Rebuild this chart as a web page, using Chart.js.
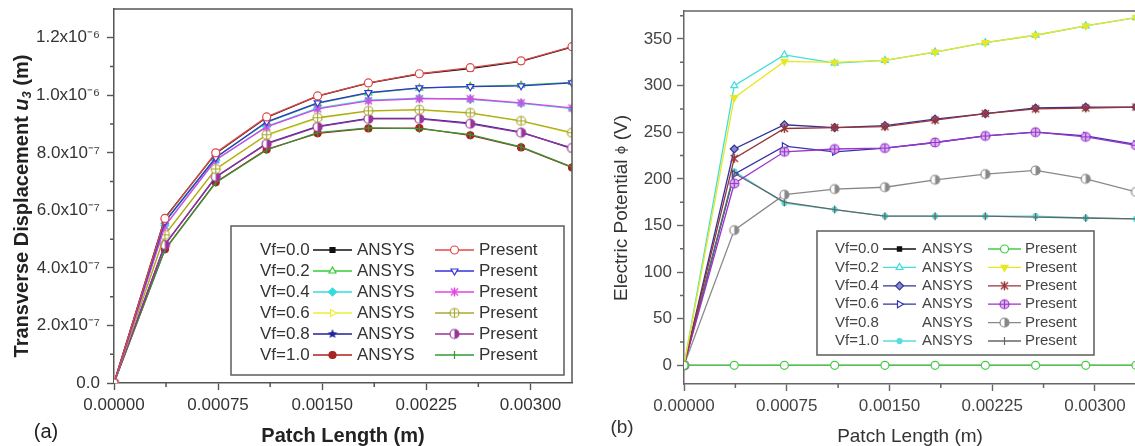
<!DOCTYPE html>
<html>
<head>
<meta charset="utf-8">
<script src="https://cdn.jsdelivr.net/npm/chart.js@4/dist/chart.umd.min.js"></script>
<style>
  html, body { margin: 0; padding: 0; background: #fff; overflow: hidden; }
  #wrap { position: relative; width: 1135px; height: 446px; overflow: hidden; }
  #dispChart { position: absolute; left: 0; top: 0; }
  #potChart { position: absolute; left: 590px; top: 0; }
</style>
</head>
<body>
<div id="wrap">
  <canvas id="dispChart" width="590" height="446"></canvas>
  <canvas id="potChart" width="600" height="446"></canvas>
</div>
<script>
// patch length stations (m)
const xPatch = [0, 0.000367, 0.000733, 0.0011, 0.001467, 0.001833, 0.0022, 0.002567, 0.002933, 0.0033];
const xTickValues = [0, 0.00075, 0.0015, 0.00225, 0.003];
const xTickLabels = ['0.00000', '0.00075', '0.00150', '0.00225', '0.00300'];
const xMinor = [0.000375, 0.001125, 0.001875, 0.002625];
const vfLabels = ['Vf=0.0', 'Vf=0.2', 'Vf=0.4', 'Vf=0.6', 'Vf=0.8', 'Vf=1.0'];

// (a) transverse displacement u3 (m)
const dispTicks = [0, 2e-7, 4e-7, 6e-7, 8e-7, 1e-6, 1.2e-6];
const dispTickLabels = ['0.0', '2.0x10\u207B\u2077', '4.0x10\u207B\u2077', '6.0x10\u207B\u2077', '8.0x10\u207B\u2077', '1.0x10\u207B\u2076', '1.2x10\u207B\u2076'];
const dispMinor = [1e-7, 3e-7, 5e-7, 7e-7, 9e-7, 1.1e-6];

const dispAnsys00 = [0, 5.74e-7, 7.98e-7, 9.23e-7, 9.97e-7, 1.042e-6, 1.074e-6, 1.093e-6, 1.118e-6, 1.168e-6];
const dispAnsys02 = [0, 5.62e-7, 7.85e-7, 9.06e-7, 9.72e-7, 1.008e-6, 1.025e-6, 1.031e-6, 1.035e-6, 1.045e-6];
const dispAnsys04 = [0, 5.48e-7, 7.74e-7, 8.92e-7, 9.55e-7, 9.83e-7, 9.90e-7, 9.86e-7, 9.72e-7, 9.54e-7];
const dispAnsys06 = [0, 5.17e-7, 7.42e-7, 8.61e-7, 9.20e-7, 9.45e-7, 9.49e-7, 9.37e-7, 9.10e-7, 8.68e-7];
const dispAnsys08 = [0, 4.82e-7, 7.15e-7, 8.33e-7, 8.92e-7, 9.20e-7, 9.20e-7, 9.03e-7, 8.72e-7, 8.15e-7];
const dispAnsys10 = [0, 4.65e-7, 6.98e-7, 8.12e-7, 8.68e-7, 8.85e-7, 8.86e-7, 8.61e-7, 8.19e-7, 7.49e-7];

const dispPresent00 = [0, 5.72e-7, 8.00e-7, 9.25e-7, 9.98e-7, 1.043e-6, 1.075e-6, 1.096e-6, 1.120e-6, 1.169e-6];
const dispPresent02 = [0, 5.60e-7, 7.83e-7, 9.08e-7, 9.74e-7, 1.009e-6, 1.026e-6, 1.030e-6, 1.033e-6, 1.043e-6];
const dispPresent04 = [0, 5.45e-7, 7.76e-7, 8.90e-7, 9.53e-7, 9.81e-7, 9.88e-7, 9.88e-7, 9.74e-7, 9.56e-7];
const dispPresent06 = [0, 5.15e-7, 7.44e-7, 8.63e-7, 9.22e-7, 9.46e-7, 9.50e-7, 9.39e-7, 9.11e-7, 8.70e-7];
const dispPresent08 = [0, 4.80e-7, 7.17e-7, 8.31e-7, 8.90e-7, 9.18e-7, 9.18e-7, 9.01e-7, 8.70e-7, 8.17e-7];
const dispPresent10 = [0, 4.63e-7, 6.96e-7, 8.10e-7, 8.70e-7, 8.87e-7, 8.84e-7, 8.63e-7, 8.21e-7, 7.51e-7];

// (b) electric potential phi (V)
const potTicks = [0, 50, 100, 150, 200, 250, 300, 350];
const potTickLabels = ['0', '50', '100', '150', '200', '250', '300', '350'];
const potMinor = [-25, 25, 75, 125, 175, 225, 275, 325, 375];

const potAnsys00 = [0, 0, 0, 0, 0, 0, 0, 0, 0, 0];
const potAnsys02 = [0, 300, 333, 324, 327, 336, 346, 354, 364, 373];
const potAnsys04 = [0, 232, 258, 255, 257, 264, 270, 276, 277, 277];
const potAnsys06 = [0, 205, 235, 229, 233, 239, 246, 250, 246, 237];
const potAnsys10 = [0, 208, 174, 167, 160, 160, 160, 160, 158, 157];

const potPresent00 = [0, 0, 0, 0, 0, 0, 0, 0, 0, 0];
const potPresent02 = [0, 287, 326, 325, 327, 336, 346, 354, 364, 373];
const potPresent04 = [0, 222, 254, 255, 256, 263, 270, 275, 276, 277];
const potPresent06 = [0, 195, 229, 232, 233, 239, 246, 250, 245, 236];
const potPresent08 = [0, 145, 183, 189, 191, 199, 205, 209, 200, 186];
const potPresent10 = [0, 206, 175, 167, 160, 160, 160, 159, 158, 157];

Chart.defaults.font.family = "'Liberation Sans', Arial, sans-serif";

// small canvas markers for the symbols Chart.js has no style for
function marker(kind, color, r, fill) {
  const s = Math.ceil(r * 2 + 4);
  const c = document.createElement('canvas');
  c.width = c.height = s;
  const g = c.getContext('2d');
  const m = s / 2;
  g.strokeStyle = color;
  g.fillStyle = color;
  g.lineWidth = 1.2;
  g.beginPath();
  if (kind === 'half') {
    g.arc(m, m, r, 0, Math.PI * 2);
    g.fillStyle = '#fff'; g.fill(); g.stroke();
    g.beginPath();
    g.arc(m, m, r, -Math.PI / 2, Math.PI / 2);
    g.closePath();
    g.fillStyle = color; g.fill();
  } else if (kind === 'circleCross') {
    g.arc(m, m, r, 0, Math.PI * 2);
    g.fillStyle = fill || '#fff'; g.fill(); g.stroke();
    g.beginPath();
    g.moveTo(m - r, m); g.lineTo(m + r, m);
    g.moveTo(m, m - r); g.lineTo(m, m + r);
    g.stroke();
  } else if (kind === 'star5') {
    for (let i = 0; i < 10; i++) {
      const a = -Math.PI / 2 + i * Math.PI / 5;
      const rr = i % 2 ? r * 0.45 : r;
      g.lineTo(m + rr * Math.cos(a), m + rr * Math.sin(a));
    }
    g.closePath(); g.fill();
  } else if (kind === 'xBar') {
    const d = r * 0.8;
    g.lineWidth = 1.4;
    g.moveTo(m - d, m - d); g.lineTo(m + d, m + d);
    g.moveTo(m + d, m - d); g.lineTo(m - d, m + d);
    g.moveTo(m, m - r); g.lineTo(m, m + r);
    g.stroke();
  }
  return c;
}

function series(label, values, color, style, extra) {
  return Object.assign({
    label: label,
    data: xPatch.map((x, i) => ({ x: x, y: values[i] })),
    borderColor: color,
    pointBorderColor: color,
    pointBackgroundColor: '#fff',
    pointStyle: style,
    pointRadius: 4,
    pointBorderWidth: 1.2,
    borderWidth: 1.3,
    tension: 0
  }, extra || {});
}

function samplePoint(ctx, ds, x, y) {
  ctx.strokeStyle = ds.pointBorderColor;
  ctx.fillStyle = ds.pointBackgroundColor;
  ctx.lineWidth = ds.pointBorderWidth;
  const opts = { pointStyle: ds.pointStyle, radius: ds.pointRadius, rotation: ds.pointRotation || 0, borderWidth: ds.pointBorderWidth };
  if (Chart.helpers && Chart.helpers.drawPoint) {
    Chart.helpers.drawPoint(ctx, opts, x, y);
  } else {
    ctx.beginPath();
    ctx.arc(x, y, ds.pointRadius, 0, Math.PI * 2);
    ctx.fill(); ctx.stroke();
  }
}

// two-column legend: "Vf=.. —o— ANSYS   —o— Present"
const pairLegend = {
  id: 'pairLegend',
  afterDatasetsDraw(chart, args, o) {
    const ctx = chart.ctx;
    const [l, t, r, b] = o.box;
    ctx.save();
    ctx.fillStyle = '#fff';
    ctx.fillRect(l, t, r - l, b - t);
    ctx.strokeStyle = o.boxColor;
    ctx.lineWidth = 1.6;
    ctx.strokeRect(l, t, r - l, b - t);
    ctx.textBaseline = 'middle';
    o.rows.forEach((text, i) => {
      const y = o.top + i * o.step;
      ctx.font = o.font;
      ctx.fillStyle = o.textColor;
      ctx.fillText(text, o.cols[0], y);
      ctx.fillText('ANSYS', o.cols[2], y);
      ctx.fillText('Present', o.cols[4], y);
      [[o.ansys[i], o.cols[1]], [o.present[i], o.cols[3]]].forEach(([idx, x0]) => {
        if (idx === null) return;
        const ds = chart.data.datasets[idx];
        ctx.strokeStyle = ds.borderColor;
        ctx.lineWidth = ds.borderWidth;
        ctx.beginPath();
        ctx.moveTo(x0, y);
        ctx.lineTo(x0 + o.sampleLen, y);
        ctx.stroke();
        samplePoint(ctx, ds, x0 + o.sampleLen / 2, y);
      });
    });
    ctx.restore();
  }
};

// top/right frame lines and short minor ticks
const frameMinor = {
  id: 'frameMinor',
  afterDraw(chart, args, o) {
    const { ctx, chartArea: a, scales } = chart;
    ctx.save();
    ctx.strokeStyle = o.color;
    ctx.lineWidth = o.width;
    ctx.beginPath();
    ctx.moveTo(a.left, a.top);
    ctx.lineTo(a.right, a.top);
    ctx.lineTo(a.right, a.bottom);
    o.xMinor.forEach(v => {
      const px = scales.x.getPixelForValue(v);
      ctx.moveTo(px, a.bottom); ctx.lineTo(px, a.bottom + o.len);
    });
    o.yMinor.forEach(v => {
      const py = scales.y.getPixelForValue(v);
      if (py < a.top || py > a.bottom) return;
      ctx.moveTo(a.left, py); ctx.lineTo(a.left - o.len, py);
    });
    ctx.stroke();
    ctx.restore();
  }
};

// rotated y title built from runs of text, plus the panel letter
const sideText = {
  id: 'sideText',
  afterDraw(chart, args, o) {
    const ctx = chart.ctx;
    ctx.save();
    ctx.fillStyle = o.color;
    ctx.textBaseline = 'middle';
    ctx.translate(o.titleX, o.titleY);
    ctx.rotate(-Math.PI / 2);
    let w = 0;
    o.runs.forEach(run => { ctx.font = run.font; w += ctx.measureText(run.text).width; });
    let x = -w / 2;
    o.runs.forEach(run => {
      ctx.font = run.font;
      ctx.fillText(run.text, x, run.dy || 0);
      x += ctx.measureText(run.text).width;
    });
    ctx.restore();
    ctx.save();
    ctx.fillStyle = o.color;
    ctx.font = o.panelFont;
    ctx.textAlign = 'center';
    ctx.textBaseline = 'middle';
    ctx.fillText(o.panel, o.panelX, o.panelY);
    ctx.restore();
  }
};

function axes(opt) {
  return {
    x: {
      type: 'linear', min: 0, max: 0.0033,
      afterBuildTicks: s => { s.ticks = xTickValues.map(v => ({ value: v })); },
      afterFit: s => { s.height = opt.xHeight; s.paddingLeft = 0; s.paddingRight = 0; },
      ticks: { callback: (v, i) => xTickLabels[i], font: { size: 17 }, color: opt.tickColor, padding: 5, maxRotation: 0, autoSkip: false },
      grid: { drawOnChartArea: false, tickLength: 7, tickColor: opt.axisColor, tickWidth: 1.4 },
      border: { color: opt.axisColor, width: 1.5 },
      title: { display: true, text: 'Patch Length (m)', font: opt.xTitleFont, color: opt.titleColor, padding: 0 }
    },
    y: {
      type: 'linear', min: opt.yMin, max: opt.yMax,
      afterBuildTicks: s => { s.ticks = opt.yTicks.map(v => ({ value: v })); },
      afterFit: s => { s.width = opt.yWidth; s.paddingTop = 0; s.paddingBottom = 0; },
      ticks: { callback: (v, i) => opt.yLabels[i], font: { size: 17 }, color: opt.tickColor, padding: opt.yPad, autoSkip: false },
      grid: { drawOnChartArea: false, tickLength: 7, tickColor: opt.axisColor, tickWidth: 1.4 },
      border: { color: opt.axisColor, width: 1.5 }
    }
  };
}

const dispSets = [
  series('Vf=0.0 ANSYS', dispAnsys00, '#111111', 'rect', { pointBackgroundColor: '#111111', pointRadius: 3.5, order: 1 }),
  series('Vf=0.2 ANSYS', dispAnsys02, '#33cc33', 'triangle', { order: 1 }),
  series('Vf=0.4 ANSYS', dispAnsys04, '#33dddd', 'rectRot', { pointBackgroundColor: '#33dddd', order: 1 }),
  series('Vf=0.6 ANSYS', dispAnsys06, '#eeee33', 'triangle', { pointRotation: 90, order: 1 }),
  series('Vf=0.8 ANSYS', dispAnsys08, '#222299', marker('star5', '#222299', 5), { order: 1 }),
  series('Vf=1.0 ANSYS', dispAnsys10, '#aa2222', 'circle', { pointBackgroundColor: '#aa2222', pointRadius: 3.5, order: 1 }),
  series('Vf=0.0 Present', dispPresent00, '#e04848', 'circle', { order: 0 }),
  series('Vf=0.2 Present', dispPresent02, '#3333dd', 'triangle', { pointRotation: 180, order: 0 }),
  series('Vf=0.4 Present', dispPresent04, '#e044e0', marker('xBar', '#e044e0', 4.5), { order: 0 }),
  series('Vf=0.6 Present', dispPresent06, '#a8a830', marker('circleCross', '#a8a830', 4.5), { order: 0 }),
  series('Vf=0.8 Present', dispPresent08, '#993399', marker('half', '#993399', 4.5), { order: 0 }),
  series('Vf=1.0 Present', dispPresent10, '#339933', 'line', { pointRotation: 90, order: 0 })
];

new Chart('dispChart', {
  type: 'line',
  data: { datasets: dispSets },
  plugins: [pairLegend, frameMinor, sideText],
  options: {
    responsive: false, animation: false, events: [], devicePixelRatio: 1,
    layout: { padding: { top: 9, right: 18, left: 0, bottom: 0 } },
    scales: axes({
      xHeight: 63, yWidth: 114, yPad: 7, yMin: 0, yMax: 1.3e-6,
      yTicks: dispTicks, yLabels: dispTickLabels,
      tickColor: '#333', axisColor: '#555', titleColor: '#222',
      xTitleFont: { size: 20, weight: 'bold', lineHeight: 1 }
    }),
    plugins: {
      legend: { display: false }, tooltip: { enabled: false },
      pairLegend: {
        box: [231, 226, 564, 375], boxColor: '#666', font: '17px "Liberation Sans", Arial, sans-serif', textColor: '#333',
        top: 250, step: 21, cols: [260, 313, 357, 435, 479], sampleLen: 39,
        rows: vfLabels, ansys: [0, 1, 2, 3, 4, 5], present: [6, 7, 8, 9, 10, 11]
      },
      frameMinor: { color: '#555', width: 1.5, len: 4, xMinor: xMinor, yMinor: dispMinor },
      sideText: {
        color: '#222', titleX: 22, titleY: 206,
        runs: [
          { text: 'Transverse Displacement ', font: 'bold 20px "Liberation Sans", Arial, sans-serif' },
          { text: 'u', font: 'italic bold 20px "Liberation Sans", Arial, sans-serif' },
          { text: '3', font: 'italic bold 13px "Liberation Sans", Arial, sans-serif', dy: 5 },
          { text: ' (m)', font: 'bold 20px "Liberation Sans", Arial, sans-serif' }
        ],
        panel: '(a)', panelX: 46, panelY: 432, panelFont: '20px "Liberation Sans", Arial, sans-serif'
      }
    }
  }
});

const potSets = [
  series('Vf=0.0 ANSYS', potAnsys00, '#111111', 'rect', { pointBackgroundColor: '#111111', pointRadius: 3, order: 1 }),
  series('Vf=0.2 ANSYS', potAnsys02, '#44dddd', 'triangle', { order: 1 }),
  series('Vf=0.4 ANSYS', potAnsys04, '#333399', 'rectRot', { pointBackgroundColor: '#8888cc', order: 1 }),
  series('Vf=0.6 ANSYS', potAnsys06, '#3333aa', 'triangle', { pointRotation: 90, order: 1 }),
  series('Vf=1.0 ANSYS', potAnsys10, '#55dddd', 'circle', { pointBackgroundColor: '#55dddd', pointBorderColor: '#55dddd', pointRadius: 2.5, order: 1 }),
  series('Vf=0.0 Present', potPresent00, '#44cc44', 'circle', { order: 0 }),
  series('Vf=0.2 Present', potPresent02, '#e8e822', 'triangle', { pointRotation: 180, pointBackgroundColor: '#e8e822', order: 0 }),
  series('Vf=0.4 Present', potPresent04, '#993333', marker('xBar', '#993333', 4.5), { order: 0 }),
  series('Vf=0.6 Present', potPresent06, '#9933cc', marker('circleCross', '#9933cc', 4.5, '#d9b8f0'), { order: 0 }),
  series('Vf=0.8 Present', potPresent08, '#888888', marker('half', '#888888', 4.5), { order: 0 }),
  series('Vf=1.0 Present', potPresent10, '#666666', 'line', { pointRotation: 90, order: 0 })
];

new Chart('potChart', {
  type: 'line',
  data: { datasets: potSets },
  plugins: [pairLegend, frameMinor, sideText],
  options: {
    responsive: false, animation: false, events: [], devicePixelRatio: 1,
    layout: { padding: { top: 11, right: 54, left: 0, bottom: 0 } },
    scales: axes({
      xHeight: 62, yWidth: 94, yPad: 5, yMin: -20, yMax: 380,
      yTicks: potTicks, yLabels: potTickLabels,
      tickColor: '#444', axisColor: '#666', titleColor: '#333',
      xTitleFont: { size: 19, lineHeight: 1 }
    }),
    plugins: {
      legend: { display: false }, tooltip: { enabled: false },
      pairLegend: {
        box: [227, 231, 504, 355], boxColor: '#666', font: '15px "Liberation Sans", Arial, sans-serif', textColor: '#444',
        top: 249, step: 18.4, cols: [245, 293, 332, 398, 435], sampleLen: 33,
        rows: vfLabels, ansys: [0, 1, 2, 3, null, 4], present: [5, 6, 7, 8, 9, 10]
      },
      frameMinor: { color: '#666', width: 1.5, len: 4, xMinor: xMinor, yMinor: potMinor },
      sideText: {
        color: '#333', titleX: 32, titleY: 208,
        runs: [
          { text: 'Electric Potential ', font: '19px "Liberation Sans", Arial, sans-serif' },
          { text: '\u03D5', font: '13px "DejaVu Sans", sans-serif' },
          { text: ' (V)', font: '19px "Liberation Sans", Arial, sans-serif' }
        ],
        panel: '(b)', panelX: 32, panelY: 428, panelFont: '19px "Liberation Sans", Arial, sans-serif'
      }
    }
  }
});
</script>
</body>
</html>
